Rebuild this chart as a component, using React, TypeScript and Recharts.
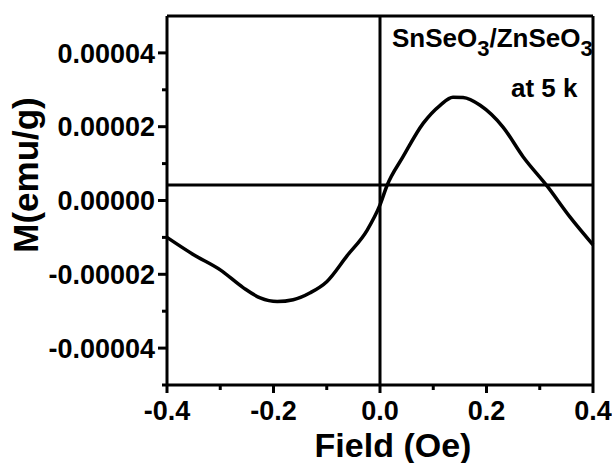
import React from 'react';
import { LineChart, Line, XAxis, YAxis, ReferenceLine } from 'recharts';

// magnetisation curve
const fieldOe = [
  -0.4, -0.35, -0.3, -0.257, -0.225, -0.193, -0.163, -0.131, -0.1, -0.062, -0.024, 0,
  0.013, 0.043, 0.081, 0.113, 0.137, 0.156, 0.188, 0.231, 0.269, 0.314, 0.357, 0.4,
];
const moment = [
  -1.0e-5, -1.47e-5, -1.88e-5, -2.36e-5, -2.64e-5, -2.74e-5, -2.69e-5, -2.5e-5, -2.2e-5, -1.5e-5, -0.8e-5, -0.12e-5,
  0.4e-5, 1.18e-5, 2.09e-5, 2.58e-5, 2.8e-5, 2.79e-5, 2.58e-5, 1.99e-5, 1.18e-5, 0.39e-5, -0.45e-5, -1.2e-5,
];

const xTicks = [-0.4, -0.3, -0.2, -0.1, 0, 0.1, 0.2, 0.3, 0.4];
const yTicks = [-0.00005, -0.00004, -0.00003, -0.00002, -0.00001, 0, 0.00001, 0.00002, 0.00003, 0.00004];
const baseLineM = 0.0000042;

const data = fieldOe.map((f, i) => ({ field: f, m: moment[i] }));

const FONT = '"Liberation Sans", Arial, sans-serif';

const XTick = (props: any) => {
  const { x, y, payload } = props;
  const major = Math.round(payload.value * 10) % 2 === 0;
  return (
    <g>
      <line x1={x} x2={x} y1={y} y2={y + (major ? 8 : 5)} stroke="#000" strokeWidth={3} />
      {major && (
        <text x={x} y={y + 35} textAnchor="middle" fontFamily={FONT} fontWeight="bold" fontSize={27} fill="#000">
          {payload.value.toFixed(1)}
        </text>
      )}
    </g>
  );
};

const YTick = (props: any) => {
  const { x, y, payload } = props;
  const major = Math.round(payload.value * 1e5) % 2 === 0;
  return (
    <g>
      <line x1={x} x2={x - (major ? 9 : 5)} y1={y} y2={y} stroke="#000" strokeWidth={3} />
      {major && (
        <text x={x - 12} y={y} dy="0.36em" textAnchor="end" fontFamily={FONT} fontWeight="bold" fontSize={27} fill="#000">
          {payload.value.toFixed(5)}
        </text>
      )}
    </g>
  );
};

export default function App() {
  return (
    <div style={{ position: 'absolute', left: 0, top: 0, width: 612, height: 463, background: '#fff' }}>
      <LineChart width={612} height={463} data={data} margin={{ top: 16, right: 19, bottom: 0, left: 0 }}>
        <XAxis
          dataKey="field"
          type="number"
          domain={[-0.4, 0.4]}
          ticks={xTicks}
          interval={0}
          height={78}
          tickSize={0}
          tickMargin={0}
          tickLine={false}
          axisLine={{ stroke: '#000', strokeWidth: 3 }}
          tick={<XTick />}
        />
        <YAxis
          type="number"
          domain={[-0.00005, 0.00005]}
          allowDataOverflow
          ticks={yTicks}
          interval={0}
          width={167}
          tickSize={0}
          tickMargin={0}
          tickLine={false}
          axisLine={{ stroke: '#000', strokeWidth: 3 }}
          tick={<YTick />}
        />
        <ReferenceLine y={0.00005} stroke="#000" strokeWidth={3} />
        <ReferenceLine x={0.4} stroke="#000" strokeWidth={3} />
        <ReferenceLine x={0} stroke="#000" strokeWidth={3} />
        <ReferenceLine y={baseLineM} stroke="#000" strokeWidth={3} />
        <Line
          type="monotone"
          dataKey="m"
          stroke="#000"
          strokeWidth={3.5}
          dot={false}
          isAnimationActive={false}
        />
      </LineChart>
      <svg width={612} height={463} style={{ position: 'absolute', left: 0, top: 0, pointerEvents: 'none' }}>
        <g fontFamily={FONT} fontWeight="bold" fill="#000">
          <text x={393} y={457} fontSize={34} textAnchor="middle">Field (Oe)</text>
          <text x={38} y={175} fontSize={35} textAnchor="middle" transform="rotate(-90, 38, 175)">M(emu/g)</text>
          <text x={392} y={47} fontSize={26}>
            SnSeO<tspan fontSize={22} dy={9}>3</tspan>
            <tspan dy={-9}>/ZnSeO</tspan>
            <tspan fontSize={22} dy={9}>3</tspan>
          </text>
          <text x={511} y={97} fontSize={26}>at 5 k</text>
        </g>
      </svg>
    </div>
  );
}
